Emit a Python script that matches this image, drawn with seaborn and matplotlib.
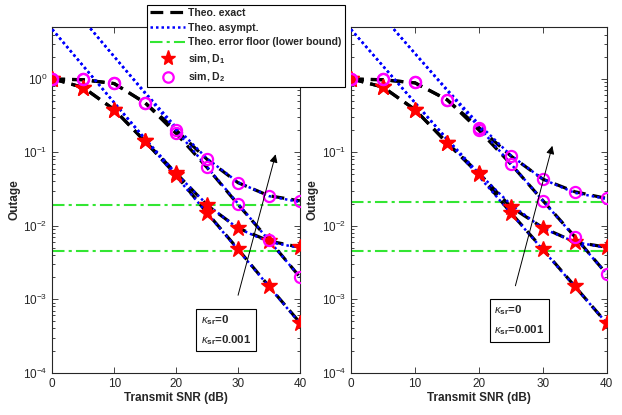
import numpy as np
import pandas as pd
import matplotlib
matplotlib.use("Agg")
import matplotlib.pyplot as plt
import seaborn as sns
from matplotlib.lines import Line2D

sns.set_style("ticks")
plt.rcParams['font.family'] = ['Liberation Sans', 'DejaVu Sans']
plt.rcParams['mathtext.fontset'] = 'custom'
plt.rcParams['mathtext.rm'] = 'Liberation Sans'
plt.rcParams['mathtext.it'] = 'Liberation Sans:italic'
plt.rcParams['mathtext.bf'] = 'Liberation Sans:bold'

# ---------------- data ----------------
snr = [0, 5, 10, 15, 20, 25, 30, 35, 40]
snr_asym2 = [5, 10, 15, 20, 25, 30, 35, 40]

# left panel
L_d1_k0 = [1.0, 0.76, 0.38, 0.14, 0.049, 0.0147, 0.0048, 0.0015, 0.00048]
L_d1_k1 = [1.0, 0.76, 0.38, 0.14, 0.052, 0.019, 0.0093, 0.0062, 0.0051]
L_d2_k0 = [1.0, 1.0, 0.87, 0.47, 0.18, 0.062, 0.0195, 0.0064, 0.002]
L_d2_k1 = [1.0, 1.0, 0.87, 0.47, 0.20, 0.080, 0.0385, 0.0256, 0.0218]
L_ex_d1_k0 = [1.0, 0.76, 0.38, 0.14, 0.049, 0.0150, 0.0048, 0.0015, 0.00048]
L_ex_d1_k1 = [1.0, 0.76, 0.38, 0.14, 0.052, 0.0190, 0.0093, 0.0062, 0.0051]
L_ex_d2_k0 = [0.99, 0.97, 0.86, 0.47, 0.18, 0.062, 0.0195, 0.0064, 0.002]
L_ex_d2_k1 = [0.99, 0.97, 0.86, 0.47, 0.20, 0.080, 0.0385, 0.0256, 0.0218]
L_as_d1_k0 = [4.7, 1.49, 0.47, 0.149, 0.047, 0.0149, 0.0047, 0.00149, 0.00047]
L_as_d1_k1 = [4.7, 1.49, 0.475, 0.153, 0.0515, 0.0194, 0.0092, 0.0060, 0.0050]
L_as_d2_k0 = [6.3, 2.0, 0.63, 0.20, 0.063, 0.020, 0.0063, 0.0020]
L_as_d2_k1 = [6.3, 2.0, 0.65, 0.219, 0.082, 0.039, 0.0253, 0.0210]
L_floors = [0.019, 0.0045]

# right panel
R_d1_k0 = [1.0, 0.77, 0.38, 0.135, 0.050, 0.015, 0.0048, 0.0015, 0.00047]
R_d1_k1 = [1.0, 0.77, 0.38, 0.135, 0.052, 0.018, 0.0094, 0.0060, 0.0051]
R_d2_k0 = [1.0, 1.0, 0.89, 0.52, 0.20, 0.069, 0.022, 0.0071, 0.0022]
R_d2_k1 = [1.0, 1.0, 0.89, 0.52, 0.217, 0.089, 0.043, 0.029, 0.0235]
R_ex_d1_k0 = [1.0, 0.77, 0.38, 0.135, 0.050, 0.015, 0.0048, 0.0015, 0.00047]
R_ex_d1_k1 = [1.0, 0.77, 0.38, 0.135, 0.052, 0.018, 0.0094, 0.0060, 0.0051]
R_ex_d2_k0 = [0.99, 0.97, 0.88, 0.52, 0.20, 0.069, 0.022, 0.0071, 0.0022]
R_ex_d2_k1 = [0.99, 0.97, 0.88, 0.52, 0.217, 0.089, 0.043, 0.029, 0.0235]
R_as_d1_k0 = [4.7, 1.49, 0.47, 0.149, 0.047, 0.0149, 0.0047, 0.00149, 0.00047]
R_as_d1_k1 = [4.7, 1.49, 0.475, 0.153, 0.0515, 0.0194, 0.0092, 0.0060, 0.0050]
R_as_d2_k0 = [6.96, 2.2, 0.696, 0.22, 0.0696, 0.022, 0.00696, 0.0022]
R_as_d2_k1 = [6.98, 2.22, 0.717, 0.241, 0.0906, 0.043, 0.028, 0.0232]
R_floors = [0.021, 0.0045]

legend_labels = ["Theo. exact", "Theo. asympt.", "Theo. error floor (lower bound)",
                 r"sim, D$_\mathbf{1}$", r"sim, D$_\mathbf{2}$"]
box_labels = [r"$\kappa_{\mathbf{sr}}$=0", r"$\kappa_{\mathbf{sr}}$=0.001"]
xticks = [0, 10, 20, 30, 40]

# ---------------- styles ----------------
BLACK = "black"
BLUE = "#0000ff"
GREEN = "#33e633"
RED = "#ff0000"
MAG = "#ff00ff"
FS = 8.5
LFS = 7.6

fig = plt.figure(figsize=(6.22, 4.15), dpi=100)
axL = fig.add_axes([0.0841, 0.102, 0.398, 0.832])
axR = fig.add_axes([0.5643, 0.102, 0.4112, 0.832])


def panel(ax, ex, asy, sims, floors, arrow, boxpos):
    # exact curves
    for y in ex:
        sns.lineplot(x=snr, y=y, ax=ax, color=BLACK, lw=2.3, dashes=False,
                     linestyle=(0, (4, 2.2)), zorder=2)
    # error floors
    for f in floors:
        ax.axhline(f, color=GREEN, lw=1.5, linestyle=(0, (6, 2, 1.5, 2)), zorder=1)
    # asymptotes
    for xs, y in asy:
        sns.lineplot(x=xs, y=y, ax=ax, color=BLUE, lw=1.8,
                     linestyle=(0, (1, 1.2)), zorder=3)
    # sims
    for y in sims[0]:
        ax.plot(snr, y, linestyle="none", marker="*", ms=12, mfc=RED, mec=RED, zorder=5)
    for y in sims[1]:
        ax.plot(snr, y, linestyle="none", marker="o", ms=8, mfc="none", mec=MAG,
                mew=1.6, zorder=6)
    ax.set_yscale("log")
    ax.set_xlim(0, 40)
    ax.set_ylim(1e-4, 5)
    ax.set_xticks(xticks)
    ax.set_yticks([1e-4, 1e-3, 1e-2, 1e-1, 1e0])
    ax.tick_params(which="both", direction="in", top=True, right=True,
                   labelsize=FS, colors="#262626", width=0.6)
    ax.tick_params(which="major", length=4)
    ax.tick_params(which="minor", length=2)
    for s in ax.spines.values():
        s.set_linewidth(0.8)
        s.set_color("#262626")
    ax.set_xlabel("Transmit SNR (dB)", fontsize=FS, fontweight="bold", labelpad=2)
    ax.set_ylabel("Outage", fontsize=FS, fontweight="bold", labelpad=2)
    (x0, y0), (x1, y1) = arrow
    ax.annotate("", xy=(x1, y1), xytext=(x0, y0),
                arrowprops=dict(arrowstyle="-|>", color="black", lw=0.7,
                                mutation_scale=12), zorder=7)
    ax.text(boxpos[0], boxpos[1], box_labels[0] + "\n" + box_labels[1],
            transform=ax.transAxes, fontsize=8.2, fontweight="bold",
            va="top", ha="left", linespacing=1.6, zorder=8,
            bbox=dict(boxstyle="square,pad=0.4", fc="white", ec="black", lw=0.8))


panel(axL,
      [L_ex_d1_k0, L_ex_d1_k1, L_ex_d2_k0, L_ex_d2_k1],
      [(snr, L_as_d1_k0), (snr, L_as_d1_k1), (snr_asym2, L_as_d2_k0), (snr_asym2, L_as_d2_k1)],
      ([L_d1_k0, L_d1_k1], [L_d2_k0, L_d2_k1]),
      L_floors,
      ((29.9, 1.04e-3), (36.2, 0.102)),
      (0.60, 0.172))
panel(axR,
      [R_ex_d1_k0, R_ex_d1_k1, R_ex_d2_k0, R_ex_d2_k1],
      [(snr, R_as_d1_k0), (snr, R_as_d1_k1), (snr_asym2, R_as_d2_k0), (snr_asym2, R_as_d2_k1)],
      ([R_d1_k0, R_d1_k1], [R_d2_k0, R_d2_k1]),
      R_floors,
      ((25.6, 1.4e-3), (31.6, 0.133)),
      (0.56, 0.200))

handles = [
    Line2D([], [], color=BLACK, lw=2.3, linestyle=(0, (4, 2.2))),
    Line2D([], [], color=BLUE, lw=1.8, linestyle=(0, (1, 1.2))),
    Line2D([], [], color=GREEN, lw=1.5, linestyle=(0, (6, 2, 1.5, 2))),
    Line2D([], [], linestyle="none", marker="*", ms=11, mfc=RED, mec=RED),
    Line2D([], [], linestyle="none", marker="o", ms=7.5, mfc="none", mec=MAG, mew=1.6),
]
leg = fig.legend(handles, legend_labels, loc="upper left",
                 bbox_to_anchor=(147 / 622, 1 - 4.7 / 415),
                 frameon=True, fancybox=False, framealpha=1, edgecolor="black",
                 prop=dict(size=LFS, weight="bold"), handlelength=3.3,
                 labelspacing=0.45, borderpad=0.3, handletextpad=0.3,
                 borderaxespad=0)
leg.get_frame().set_linewidth(0.8)
leg.set_zorder(20)

fig.savefig("out.png", dpi=100)
